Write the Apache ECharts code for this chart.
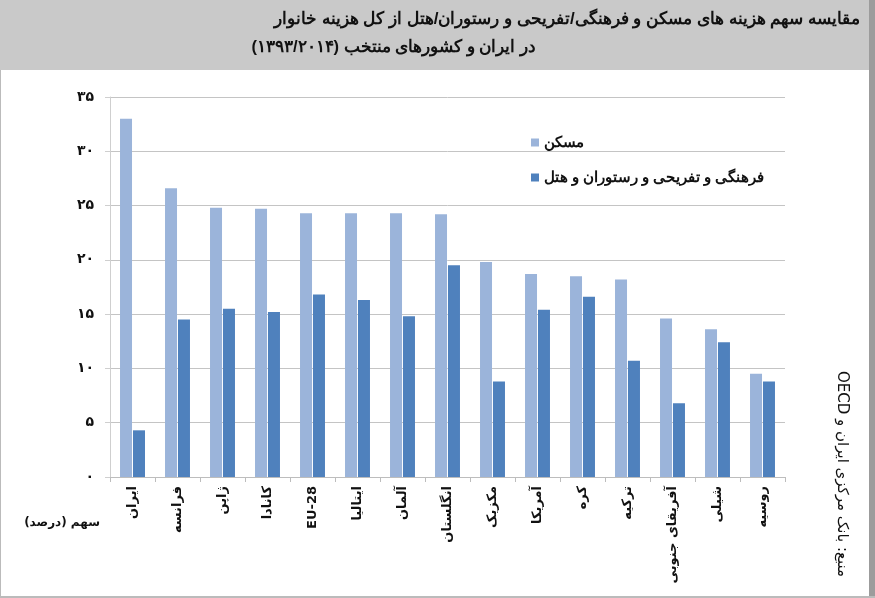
<!DOCTYPE html>
<html>
<head>
<meta charset="utf-8">
<script src="https://cdn.jsdelivr.net/npm/echarts@6/dist/echarts.min.js"></script>
<style>
html,body{margin:0;padding:0;background:#fff;}
#chart{width:875px;height:598px;direction:rtl;}
</style>
</head>
<body>
<div id="chart"></div>
<script>
const categories = ['ایران','فرانسه','ژاپن','کانادا','EU-28','ایتالیا','آلمان','انگلستان','مکزیک','آمریکا','کره','ترکیه','آفریقای جنوبی','شیلی','روسیه'];
const housing = [33.0, 26.6, 24.8, 24.7, 24.3, 24.3, 24.3, 24.2, 19.8, 18.7, 18.5, 18.2, 14.6, 13.6, 9.5];
const culture = [4.3, 14.5, 15.5, 15.2, 16.8, 16.3, 14.8, 19.5, 8.8, 15.4, 16.6, 10.7, 6.8, 12.4, 8.8];
const yTickLabels = ['۰','۵','۱۰','۱۵','۲۰','۲۵','۳۰','۳۵'];
const seriesNames = ['مسکن','فرهنگی و تفریحی و رستوران و هتل'];
const titleLine1 = 'مقایسه سهم هزینه های مسکن و فرهنگی/تفریحی و رستوران/هتل از کل هزینه خانوار';
const titleLine2 = 'در ایران و کشورهای منتخب (۱۳۹۳/۲۰۱۴)';
const unitLabel = 'سهم (درصد)';
const sourceLabel = 'منبع: بانک مرکزی ایران و OECD';

const FONT = "'DejaVu Sans', sans-serif";
const chart = echarts.init(document.getElementById('chart'), null, {renderer:'canvas'});
chart.setOption({
  backgroundColor: '#ffffff',
  animation: false,
  textStyle: {fontFamily: FONT},
  grid: {left: 110, right: 90, top: 97, bottom: 121},
  legend: {
    orient: 'vertical', left: 526, top: 130, itemGap: 20,
    itemWidth: 8, itemHeight: 8, icon: 'rect',
    textStyle: {fontSize: 14.5, fontWeight: 'bold', color: '#111', fontFamily: 'sans-serif'},
    data: seriesNames
  },
  xAxis: {
    type: 'category', data: categories,
    axisLine: {lineStyle: {color: '#bdbdbd'}},
    axisTick: {show: true, length: 5, lineStyle: {color: '#bdbdbd'}},
    axisLabel: {rotate: 90, margin: 9, fontSize: 13, fontWeight: 'bold', color: '#111', interval: 0, fontFamily: FONT}
  },
  yAxis: {
    type: 'value', min: 0, max: 35, interval: 5,
    axisLine: {show: true, lineStyle: {color: '#cfcfcf'}},
    axisTick: {show: true, length: 5, lineStyle: {color: '#cfcfcf'}},
    splitLine: {lineStyle: {color: '#c4c4c4'}},
    axisLabel: {margin: 16, fontSize: 14, fontWeight: 'bold', color: '#111', fontFamily: FONT,
      formatter: v => yTickLabels[Math.round(v / 5)]}
  },
  series: [
    {name: seriesNames[0], type: 'bar', data: housing, barWidth: 12, barGap: '8%', itemStyle: {color: '#9bb4da'}},
    {name: seriesNames[1], type: 'bar', data: culture, barWidth: 12, barGap: '8%', itemStyle: {color: '#4f81bd'}}
  ],
  graphic: [
    {type: 'rect', left: 0, top: 0, shape: {width: 875, height: 70}, style: {fill: '#c9c9c9'}, silent: true},
    {type: 'rect', left: 869, top: 0, shape: {width: 6, height: 598}, style: {fill: '#9c9c9c'}, silent: true},
    {type: 'rect', left: 0, top: 70, shape: {width: 1, height: 528}, style: {fill: '#bbbbbb'}, silent: true},
    {type: 'rect', left: 0, top: 596, shape: {width: 875, height: 2}, style: {fill: '#bbbbbb'}, silent: true},
    {type: 'text', x: 860, y: 19, style: {text: titleLine1, align: 'right', verticalAlign: 'middle', fill: '#111', font: "bold 17px sans-serif"}},
    {type: 'text', x: 536, y: 47, style: {text: titleLine2, align: 'right', verticalAlign: 'middle', fill: '#111', font: "bold 16.5px sans-serif"}},
    {type: 'text', x: 100, y: 523, style: {text: unitLabel, align: 'right', verticalAlign: 'middle', fill: '#111', font: "bold 12px 'DejaVu Sans', sans-serif"}},
    {type: 'text', x: 842, y: 474, rotation: -Math.PI / 2, style: {text: sourceLabel, align: 'center', verticalAlign: 'middle', fill: '#111', font: "15px 'DejaVu Sans', sans-serif"}}
  ]
});
</script>
</body>
</html>
